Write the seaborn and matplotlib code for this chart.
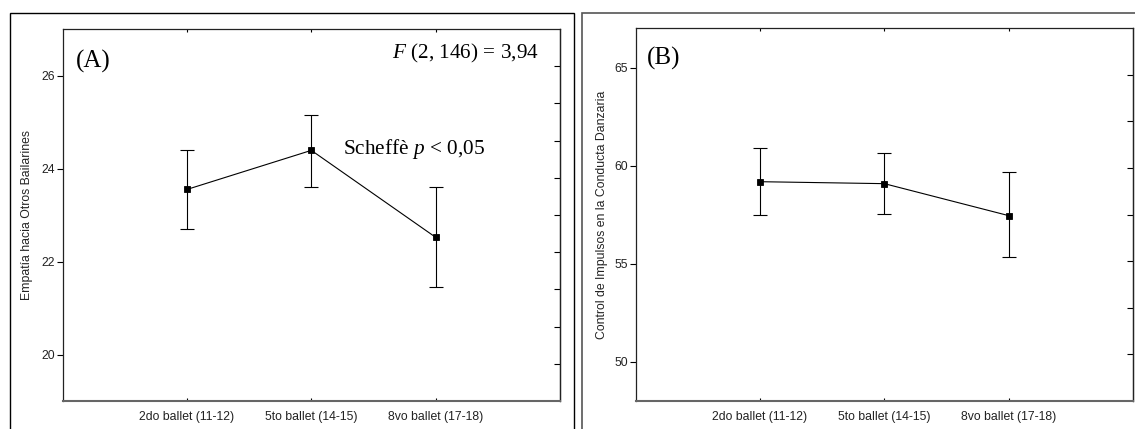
import numpy as np
import pandas as pd
import matplotlib
matplotlib.use("Agg")
import matplotlib.pyplot as plt
import seaborn as sns
from matplotlib.patches import Rectangle

sns.set_theme(style="white")
plt.rcParams['font.family'] = ['Liberation Sans', 'DejaVu Sans']
plt.rcParams['mathtext.fontset'] = 'custom'
plt.rcParams['mathtext.rm'] = 'Liberation Serif'
plt.rcParams['mathtext.it'] = 'Liberation Serif:italic'

# ---- data ----
categories = ["2do ballet (11-12)", "5to ballet (14-15)", "8vo ballet (17-18)"]

empatia_mean = [23.55, 24.39, 22.52]
empatia_low = [22.69, 23.61, 21.45]
empatia_high = [24.40, 25.14, 23.60]

control_mean = [59.18, 59.08, 57.45]
control_low = [57.48, 57.55, 55.32]
control_high = [60.91, 60.66, 59.67]

ylabel_a = "Empatía hacia Otros Bailarines"
ylabel_b = "Control de Impulsos en la Conducta Danzaria"
yticks_a = [20, 22, 24, 26]
yticks_b = [50, 55, 60, 65]

W, H = 1135, 429
fig = plt.figure(figsize=(W / 100, H / 100), dpi=100)

def px_axes(left, top, right, bottom):
    return fig.add_axes([left / W, 1 - bottom / H, (right - left) / W, (bottom - top) / H])

ax_a = px_axes(62.7, 29, 560, 401)
ax_b = px_axes(635.7, 28.3, 1133, 401)

# outer panel frames
fig.patches.append(Rectangle((10 / W, -0.2), (573.5 - 10) / W, 1.2 - 13 / H,
                             transform=fig.transFigure, fill=False, ec='black', lw=1.0, clip_on=False))
fig.patches.append(Rectangle((582.3 / W, -0.2), 0.5, 1.2 - 13 / H,
                             transform=fig.transFigure, fill=False, ec='#555555', lw=1.2, clip_on=False))

TICK_FS = 8.8

def draw_panel(ax, means, lows, highs, ylim, yticks, right_n, ylabel, label_x):
    df = pd.DataFrame({"grupo": categories, "valor": means})
    x = np.arange(len(categories))
    yerr = [np.array(means) - np.array(lows), np.array(highs) - np.array(means)]
    ax.errorbar(x, means, yerr=yerr, fmt='none', ecolor='black', elinewidth=0.8,
                capsize=5, capthick=0.8, zorder=2)
    sns.pointplot(data=df, x="grupo", y="valor", ax=ax, color='black', markers='s',
                  markersize=4, linewidth=0.8, errorbar=None, zorder=3)
    ax.set_xlim(-1, len(categories))
    ax.set_ylim(*ylim)
    ax.set_yticks(yticks)
    ax.set_yticklabels([str(t) for t in yticks], fontsize=TICK_FS, color='#222222')
    ax.set_xticks(x)
    ax.set_xticklabels(categories, fontsize=TICK_FS, color='#222222')
    ax.set_xlabel("")
    ax.set_ylabel(ylabel, fontsize=TICK_FS, color='#222222')
    ax.yaxis.label.set_va('center')
    ax.yaxis.set_label_coords(label_x, 0.5)
    ax.tick_params(axis='y', left=True, direction='out', length=4, width=0.8, pad=1.5, color='black')
    ax.tick_params(axis='x', bottom=True, top=True, direction='in', length=2.5, width=0.8,
                   pad=7, color='black')
    for s in ['left', 'top', 'right']:
        ax.spines[s].set_color('#222222')
        ax.spines[s].set_linewidth(0.9)
    ax.spines['bottom'].set_color('#666666')
    ax.spines['bottom'].set_linewidth(1.5)
    # right-side ticks dividing the axis into equal parts
    sec = ax.secondary_yaxis('right')
    step = (ylim[1] - ylim[0]) / right_n
    sec.set_yticks([ylim[0] + step * k for k in range(1, right_n)])
    sec.set_yticklabels([])
    sec.tick_params(direction='in', length=4, width=0.8, color='black')
    sec.spines['right'].set_color('#222222')
    sec.spines['right'].set_linewidth(0.9)
    ax.set_facecolor('white')

draw_panel(ax_a, empatia_mean, empatia_low, empatia_high, (19, 27), yticks_a, 10,
           ylabel_a, -0.0724)
draw_panel(ax_b, control_mean, control_low, control_high, (48, 67), yticks_b, 8,
           ylabel_b, -0.0684)

serif = ['Liberation Serif', 'DejaVu Serif']
ax_a.text(0.026, 0.912, "(A)", transform=ax_a.transAxes, fontsize=18, family=serif,
          ha='left', va='center', color='black')
ax_b.text(0.023, 0.92, "(B)", transform=ax_b.transAxes, fontsize=18, family=serif,
          ha='left', va='center', color='black')
ax_a.text(0.958, 0.935, r"$F$ (2, 146) = 3,94", transform=ax_a.transAxes, fontsize=15.3,
          family=serif, ha='right', va='center', color='black')
ax_a.text(1.252, 24.43, "Scheffè $p$ < 0,05", fontsize=15.3, family=serif,
          ha='left', va='center', color='black')

fig.savefig("out.png", dpi=100, facecolor='white')
